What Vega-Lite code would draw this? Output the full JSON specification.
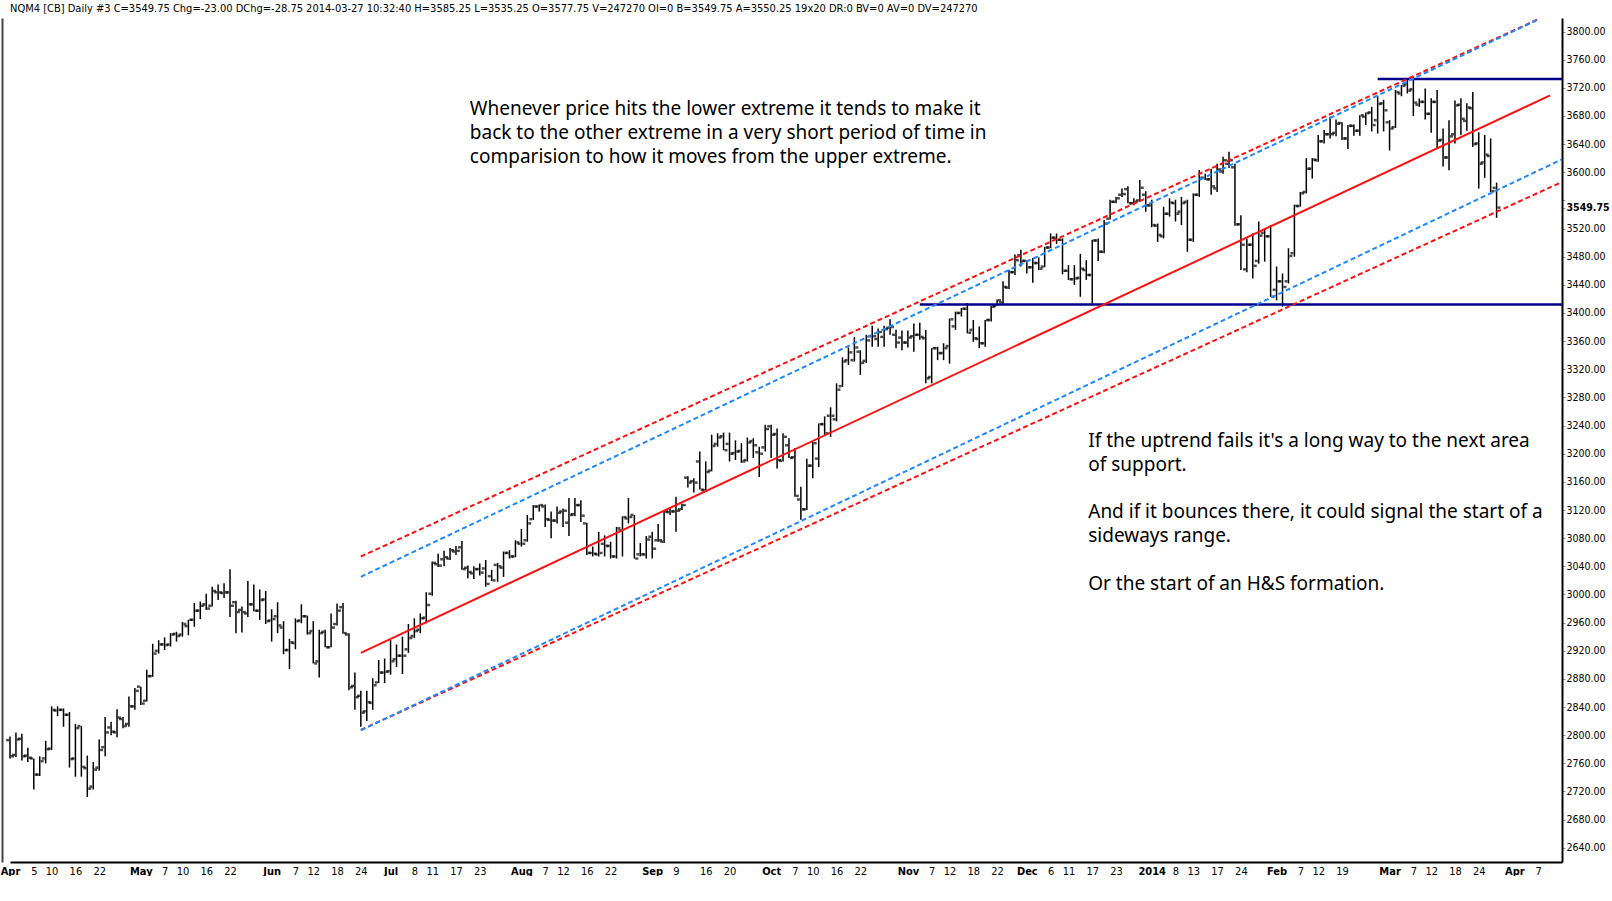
{
  "$schema": "https://vega.github.io/schema/vega-lite/v6.json",
  "width": 1560,
  "height": 844,
  "padding": {"left": 0, "top": 3, "right": 0, "bottom": 0},
  "background": "white",
  "title": {
    "text": "NQM4 [CB]  Daily  #3  C=3549.75  Chg=-23.00  DChg=-28.75  2014-03-27 10:32:40 H=3585.25 L=3535.25 O=3577.75 V=247270 OI=0 B=3549.75 A=3550.25 19x20 DR:0 BV=0 AV=0 DV=247270",
    "anchor": "start",
    "frame": "group",
    "dx": 8,
    "offset": 4,
    "font": "Liberation Sans Narrow, DejaVu Sans Condensed, sans-serif",
    "fontSize": 11,
    "fontWeight": "normal",
    "color": "black"
  },
  "config": {"view": {"stroke": null}},
  "datasets": {
    "bars": [
      {"d":"2013-04-01","o":2793,"h":2798,"l":2767,"c":2770},
      {"d":"2013-04-02","o":2772,"h":2804,"l":2769,"c":2794},
      {"d":"2013-04-03","o":2795,"h":2802,"l":2764,"c":2770},
      {"d":"2013-04-04","o":2771,"h":2782,"l":2762,"c":2768},
      {"d":"2013-04-05","o":2767,"h":2767,"l":2723,"c":2744},
      {"d":"2013-04-08","o":2744,"h":2770,"l":2742,"c":2763},
      {"d":"2013-04-09","o":2767,"h":2792,"l":2760,"c":2780},
      {"d":"2013-04-10","o":2781,"h":2841,"l":2779,"c":2836},
      {"d":"2013-04-11","o":2835,"h":2841,"l":2827,"c":2836},
      {"d":"2013-04-12","o":2836,"h":2838,"l":2812,"c":2829},
      {"d":"2013-04-15","o":2829,"h":2833,"l":2754,"c":2766},
      {"d":"2013-04-16","o":2767,"h":2816,"l":2741,"c":2810},
      {"d":"2013-04-17","o":2813,"h":2813,"l":2741,"c":2755},
      {"d":"2013-04-18","o":2753,"h":2771,"l":2712,"c":2724},
      {"d":"2013-04-19","o":2727,"h":2762,"l":2723,"c":2751},
      {"d":"2013-04-22","o":2754,"h":2794,"l":2750,"c":2779},
      {"d":"2013-04-23","o":2783,"h":2826,"l":2770,"c":2804},
      {"d":"2013-04-24","o":2811,"h":2819,"l":2800,"c":2805},
      {"d":"2013-04-25","o":2804,"h":2837,"l":2797,"c":2825},
      {"d":"2013-04-26","o":2823,"h":2826,"l":2810,"c":2813},
      {"d":"2013-04-29","o":2816,"h":2855,"l":2812,"c":2841},
      {"d":"2013-04-30","o":2841,"h":2867,"l":2836,"c":2863},
      {"d":"2013-05-01","o":2869,"h":2869,"l":2843,"c":2845},
      {"d":"2013-05-02","o":2849,"h":2893,"l":2848,"c":2884},
      {"d":"2013-05-03","o":2884,"h":2930,"l":2883,"c":2916},
      {"d":"2013-05-06","o":2920,"h":2935,"l":2916,"c":2929},
      {"d":"2013-05-07","o":2929,"h":2939,"l":2921,"c":2928},
      {"d":"2013-05-08","o":2929,"h":2945,"l":2926,"c":2943},
      {"d":"2013-05-09","o":2944,"h":2947,"l":2933,"c":2941},
      {"d":"2013-05-10","o":2943,"h":2961,"l":2940,"c":2958},
      {"d":"2013-05-13","o":2955,"h":2964,"l":2942,"c":2964},
      {"d":"2013-05-14","o":2964,"h":2988,"l":2954,"c":2977},
      {"d":"2013-05-15","o":2977,"h":2990,"l":2965,"c":2984},
      {"d":"2013-05-16","o":2986,"h":3001,"l":2978,"c":2980},
      {"d":"2013-05-17","o":2984,"h":3011,"l":2983,"c":3005},
      {"d":"2013-05-20","o":3003,"h":3014,"l":2992,"c":3003},
      {"d":"2013-05-21","o":3002,"h":3016,"l":2995,"c":3003},
      {"d":"2013-05-22","o":3003,"h":3036,"l":2968,"c":2984},
      {"d":"2013-05-23","o":2989,"h":2991,"l":2945,"c":2975},
      {"d":"2013-05-24","o":2978,"h":2983,"l":2946,"c":2975},
      {"d":"2013-05-28","o":2973,"h":3019,"l":2968,"c":2986},
      {"d":"2013-05-29","o":2986,"h":3014,"l":2976,"c":2977},
      {"d":"2013-05-30","o":2977,"h":3007,"l":2964,"c":2992},
      {"d":"2013-05-31","o":2993,"h":3005,"l":2958,"c":2962},
      {"d":"2013-06-03","o":2963,"h":2979,"l":2933,"c":2965},
      {"d":"2013-06-04","o":2969,"h":2989,"l":2945,"c":2956},
      {"d":"2013-06-05","o":2953,"h":2962,"l":2915,"c":2921},
      {"d":"2013-06-06","o":2921,"h":2937,"l":2894,"c":2932},
      {"d":"2013-06-07","o":2931,"h":2966,"l":2922,"c":2962},
      {"d":"2013-06-10","o":2963,"h":2986,"l":2959,"c":2969},
      {"d":"2013-06-11","o":2969,"h":2970,"l":2943,"c":2945},
      {"d":"2013-06-12","o":2948,"h":2962,"l":2902,"c":2902},
      {"d":"2013-06-13","o":2905,"h":2950,"l":2882,"c":2945},
      {"d":"2013-06-14","o":2947,"h":2950,"l":2925,"c":2925},
      {"d":"2013-06-17","o":2925,"h":2973,"l":2925,"c":2953},
      {"d":"2013-06-18","o":2958,"h":2987,"l":2956,"c":2977},
      {"d":"2013-06-19","o":2982,"h":2988,"l":2944,"c":2945},
      {"d":"2013-06-20","o":2943,"h":2945,"l":2864,"c":2868},
      {"d":"2013-06-21","o":2870,"h":2889,"l":2836,"c":2854},
      {"d":"2013-06-24","o":2856,"h":2863,"l":2812,"c":2832},
      {"d":"2013-06-25","o":2834,"h":2863,"l":2820,"c":2847},
      {"d":"2013-06-26","o":2846,"h":2881,"l":2836,"c":2871},
      {"d":"2013-06-27","o":2875,"h":2907,"l":2874,"c":2889},
      {"d":"2013-06-28","o":2889,"h":2909,"l":2874,"c":2890},
      {"d":"2013-07-01","o":2891,"h":2935,"l":2886,"c":2905},
      {"d":"2013-07-02","o":2908,"h":2929,"l":2897,"c":2913},
      {"d":"2013-07-03","o":2913,"h":2940,"l":2887,"c":2913},
      {"d":"2013-07-05","o":2922,"h":2958,"l":2917,"c":2938},
      {"d":"2013-07-08","o":2941,"h":2966,"l":2938,"c":2948},
      {"d":"2013-07-09","o":2950,"h":2973,"l":2945,"c":2966},
      {"d":"2013-07-10","o":2967,"h":3003,"l":2959,"c":2985},
      {"d":"2013-07-11","o":3001,"h":3047,"l":2998,"c":3045},
      {"d":"2013-07-12","o":3043,"h":3058,"l":3039,"c":3041},
      {"d":"2013-07-15","o":3050,"h":3062,"l":3040,"c":3053},
      {"d":"2013-07-16","o":3051,"h":3066,"l":3049,"c":3063},
      {"d":"2013-07-17","o":3061,"h":3069,"l":3056,"c":3062},
      {"d":"2013-07-18","o":3067,"h":3076,"l":3035,"c":3036},
      {"d":"2013-07-19","o":3038,"h":3041,"l":3023,"c":3032},
      {"d":"2013-07-22","o":3030,"h":3040,"l":3022,"c":3036},
      {"d":"2013-07-23","o":3036,"h":3044,"l":3027,"c":3031},
      {"d":"2013-07-24","o":3037,"h":3049,"l":3011,"c":3015},
      {"d":"2013-07-25","o":3026,"h":3035,"l":3019,"c":3020},
      {"d":"2013-07-26","o":3042,"h":3045,"l":3018,"c":3040},
      {"d":"2013-07-29","o":3038,"h":3061,"l":3025,"c":3059},
      {"d":"2013-07-30","o":3059,"h":3063,"l":3051,"c":3054},
      {"d":"2013-07-31","o":3054,"h":3077,"l":3053,"c":3074},
      {"d":"2013-08-01","o":3072,"h":3093,"l":3068,"c":3072},
      {"d":"2013-08-02","o":3077,"h":3113,"l":3075,"c":3101},
      {"d":"2013-08-05","o":3107,"h":3127,"l":3106,"c":3125},
      {"d":"2013-08-06","o":3125,"h":3128,"l":3118,"c":3127},
      {"d":"2013-08-07","o":3125,"h":3128,"l":3096,"c":3107},
      {"d":"2013-08-08","o":3106,"h":3118,"l":3080,"c":3105},
      {"d":"2013-08-09","o":3105,"h":3125,"l":3101,"c":3116},
      {"d":"2013-08-12","o":3118,"h":3122,"l":3096,"c":3119},
      {"d":"2013-08-13","o":3102,"h":3137,"l":3083,"c":3113},
      {"d":"2013-08-14","o":3114,"h":3137,"l":3111,"c":3127},
      {"d":"2013-08-15","o":3127,"h":3134,"l":3103,"c":3112},
      {"d":"2013-08-16","o":3101,"h":3102,"l":3056,"c":3059},
      {"d":"2013-08-19","o":3059,"h":3068,"l":3054,"c":3058},
      {"d":"2013-08-20","o":3057,"h":3089,"l":3054,"c":3059},
      {"d":"2013-08-21","o":3072,"h":3084,"l":3054,"c":3069},
      {"d":"2013-08-22","o":3069,"h":3075,"l":3051,"c":3054},
      {"d":"2013-08-23","o":3054,"h":3096,"l":3051,"c":3094},
      {"d":"2013-08-26","o":3091,"h":3111,"l":3054,"c":3110},
      {"d":"2013-08-27","o":3108,"h":3137,"l":3101,"c":3110},
      {"d":"2013-08-28","o":3113,"h":3113,"l":3051,"c":3051},
      {"d":"2013-08-29","o":3057,"h":3073,"l":3054,"c":3057},
      {"d":"2013-08-30","o":3057,"h":3083,"l":3051,"c":3078},
      {"d":"2013-09-03","o":3082,"h":3089,"l":3051,"c":3065},
      {"d":"2013-09-04","o":3077,"h":3100,"l":3075,"c":3077},
      {"d":"2013-09-05","o":3075,"h":3119,"l":3073,"c":3118},
      {"d":"2013-09-06","o":3117,"h":3122,"l":3113,"c":3118},
      {"d":"2013-09-09","o":3118,"h":3139,"l":3089,"c":3119},
      {"d":"2013-09-10","o":3121,"h":3129,"l":3120,"c":3127},
      {"d":"2013-09-11","o":3166,"h":3168,"l":3152,"c":3159},
      {"d":"2013-09-12","o":3161,"h":3165,"l":3145,"c":3159},
      {"d":"2013-09-13","o":3189,"h":3203,"l":3149,"c":3149},
      {"d":"2013-09-16","o":3148,"h":3189,"l":3148,"c":3174},
      {"d":"2013-09-17","o":3176,"h":3227,"l":3175,"c":3211},
      {"d":"2013-09-18","o":3214,"h":3229,"l":3210,"c":3223},
      {"d":"2013-09-19","o":3225,"h":3230,"l":3205,"c":3205},
      {"d":"2013-09-20","o":3214,"h":3230,"l":3189,"c":3200},
      {"d":"2013-09-23","o":3201,"h":3219,"l":3191,"c":3203},
      {"d":"2013-09-24","o":3204,"h":3215,"l":3187,"c":3189},
      {"d":"2013-09-25","o":3191,"h":3223,"l":3189,"c":3216},
      {"d":"2013-09-26","o":3218,"h":3222,"l":3194,"c":3212},
      {"d":"2013-09-27","o":3202,"h":3210,"l":3167,"c":3200},
      {"d":"2013-09-30","o":3209,"h":3241,"l":3203,"c":3235},
      {"d":"2013-10-01","o":3239,"h":3241,"l":3194,"c":3227},
      {"d":"2013-10-02","o":3228,"h":3236,"l":3179,"c":3191},
      {"d":"2013-10-03","o":3190,"h":3229,"l":3189,"c":3224},
      {"d":"2013-10-04","o":3212,"h":3222,"l":3194,"c":3194},
      {"d":"2013-10-07","o":3195,"h":3208,"l":3139,"c":3140},
      {"d":"2013-10-08","o":3135,"h":3153,"l":3106,"c":3121},
      {"d":"2013-10-09","o":3121,"h":3193,"l":3120,"c":3183},
      {"d":"2013-10-10","o":3183,"h":3217,"l":3165,"c":3215},
      {"d":"2013-10-11","o":3193,"h":3243,"l":3181,"c":3242},
      {"d":"2013-10-14","o":3242,"h":3253,"l":3226,"c":3229},
      {"d":"2013-10-15","o":3254,"h":3266,"l":3224,"c":3254},
      {"d":"2013-10-16","o":3249,"h":3300,"l":3246,"c":3291},
      {"d":"2013-10-17","o":3296,"h":3337,"l":3295,"c":3331},
      {"d":"2013-10-18","o":3333,"h":3351,"l":3326,"c":3344},
      {"d":"2013-10-21","o":3333,"h":3366,"l":3331,"c":3351},
      {"d":"2013-10-22","o":3345,"h":3347,"l":3312,"c":3329},
      {"d":"2013-10-23","o":3332,"h":3369,"l":3329,"c":3361},
      {"d":"2013-10-24","o":3367,"h":3382,"l":3352,"c":3367},
      {"d":"2013-10-25","o":3363,"h":3378,"l":3352,"c":3373},
      {"d":"2013-10-28","o":3366,"h":3382,"l":3352,"c":3377},
      {"d":"2013-10-29","o":3379,"h":3391,"l":3369,"c":3380},
      {"d":"2013-10-30","o":3369,"h":3376,"l":3350,"c":3358},
      {"d":"2013-10-31","o":3365,"h":3375,"l":3347,"c":3358},
      {"d":"2013-11-01","o":3358,"h":3375,"l":3351,"c":3365},
      {"d":"2013-11-04","o":3367,"h":3385,"l":3345,"c":3369},
      {"d":"2013-11-05","o":3369,"h":3386,"l":3362,"c":3366},
      {"d":"2013-11-06","o":3364,"h":3376,"l":3300,"c":3307},
      {"d":"2013-11-07","o":3309,"h":3350,"l":3300,"c":3350},
      {"d":"2013-11-08","o":3350,"h":3352,"l":3333,"c":3343},
      {"d":"2013-11-11","o":3343,"h":3357,"l":3333,"c":3350},
      {"d":"2013-11-12","o":3353,"h":3392,"l":3328,"c":3391},
      {"d":"2013-11-13","o":3381,"h":3402,"l":3376,"c":3400},
      {"d":"2013-11-14","o":3400,"h":3407,"l":3395,"c":3406},
      {"d":"2013-11-15","o":3406,"h":3414,"l":3371,"c":3372},
      {"d":"2013-11-18","o":3376,"h":3390,"l":3359,"c":3364},
      {"d":"2013-11-19","o":3363,"h":3381,"l":3350,"c":3357},
      {"d":"2013-11-20","o":3357,"h":3390,"l":3352,"c":3390},
      {"d":"2013-11-21","o":3390,"h":3410,"l":3388,"c":3409},
      {"d":"2013-11-22","o":3410,"h":3419,"l":3410,"c":3418},
      {"d":"2013-11-25","o":3415,"h":3445,"l":3412,"c":3437},
      {"d":"2013-11-26","o":3436,"h":3461,"l":3434,"c":3458},
      {"d":"2013-11-27","o":3458,"h":3483,"l":3454,"c":3475},
      {"d":"2013-11-29","o":3482,"h":3490,"l":3466,"c":3474},
      {"d":"2013-12-02","o":3474,"h":3475,"l":3456,"c":3465},
      {"d":"2013-12-03","o":3465,"h":3478,"l":3443,"c":3471},
      {"d":"2013-12-04","o":3471,"h":3479,"l":3461,"c":3463},
      {"d":"2013-12-05","o":3466,"h":3494,"l":3465,"c":3493},
      {"d":"2013-12-06","o":3493,"h":3513,"l":3492,"c":3507},
      {"d":"2013-12-09","o":3507,"h":3513,"l":3498,"c":3504},
      {"d":"2013-12-10","o":3504,"h":3506,"l":3455,"c":3460},
      {"d":"2013-12-11","o":3460,"h":3468,"l":3447,"c":3448},
      {"d":"2013-12-12","o":3448,"h":3468,"l":3440,"c":3449},
      {"d":"2013-12-13","o":3450,"h":3484,"l":3423,"c":3463},
      {"d":"2013-12-16","o":3461,"h":3475,"l":3447,"c":3454},
      {"d":"2013-12-17","o":3454,"h":3504,"l":3411,"c":3503},
      {"d":"2013-12-18","o":3503,"h":3506,"l":3474,"c":3487},
      {"d":"2013-12-19","o":3487,"h":3532,"l":3485,"c":3527},
      {"d":"2013-12-20","o":3534,"h":3561,"l":3533,"c":3558},
      {"d":"2013-12-23","o":3558,"h":3565,"l":3556,"c":3563},
      {"d":"2013-12-24","o":3568,"h":3577,"l":3565,"c":3569},
      {"d":"2013-12-26","o":3576,"h":3580,"l":3556,"c":3556},
      {"d":"2013-12-27","o":3556,"h":3563,"l":3553,"c":3558},
      {"d":"2013-12-30","o":3560,"h":3589,"l":3558,"c":3578},
      {"d":"2013-12-31","o":3568,"h":3573,"l":3544,"c":3553},
      {"d":"2014-01-02","o":3553,"h":3561,"l":3522,"c":3525},
      {"d":"2014-01-03","o":3524,"h":3527,"l":3501,"c":3511},
      {"d":"2014-01-06","o":3509,"h":3551,"l":3506,"c":3541},
      {"d":"2014-01-07","o":3541,"h":3563,"l":3537,"c":3557},
      {"d":"2014-01-08","o":3556,"h":3561,"l":3530,"c":3541},
      {"d":"2014-01-09","o":3544,"h":3565,"l":3525,"c":3556},
      {"d":"2014-01-10","o":3558,"h":3561,"l":3487,"c":3504},
      {"d":"2014-01-13","o":3504,"h":3570,"l":3501,"c":3568},
      {"d":"2014-01-14","o":3568,"h":3603,"l":3565,"c":3592},
      {"d":"2014-01-15","o":3592,"h":3598,"l":3589,"c":3590},
      {"d":"2014-01-16","o":3590,"h":3605,"l":3568,"c":3580},
      {"d":"2014-01-17","o":3577,"h":3612,"l":3572,"c":3604},
      {"d":"2014-01-21","o":3601,"h":3622,"l":3598,"c":3617},
      {"d":"2014-01-22","o":3612,"h":3629,"l":3606,"c":3617},
      {"d":"2014-01-23","o":3607,"h":3612,"l":3524,"c":3526},
      {"d":"2014-01-24","o":3526,"h":3539,"l":3461,"c":3497},
      {"d":"2014-01-27","o":3462,"h":3506,"l":3458,"c":3497},
      {"d":"2014-01-28","o":3497,"h":3513,"l":3449,"c":3467},
      {"d":"2014-01-29","o":3474,"h":3530,"l":3470,"c":3510},
      {"d":"2014-01-30","o":3514,"h":3520,"l":3473,"c":3509},
      {"d":"2014-01-31","o":3509,"h":3525,"l":3423,"c":3423},
      {"d":"2014-02-03","o":3433,"h":3466,"l":3418,"c":3445},
      {"d":"2014-02-04","o":3445,"h":3456,"l":3409,"c":3437},
      {"d":"2014-02-05","o":3445,"h":3492,"l":3442,"c":3481},
      {"d":"2014-02-06","o":3485,"h":3554,"l":3480,"c":3552},
      {"d":"2014-02-07","o":3552,"h":3572,"l":3551,"c":3570},
      {"d":"2014-02-10","o":3572,"h":3620,"l":3570,"c":3605},
      {"d":"2014-02-11","o":3605,"h":3620,"l":3591,"c":3618},
      {"d":"2014-02-12","o":3617,"h":3653,"l":3615,"c":3644},
      {"d":"2014-02-13","o":3644,"h":3660,"l":3641,"c":3654},
      {"d":"2014-02-14","o":3654,"h":3679,"l":3648,"c":3654},
      {"d":"2014-02-18","o":3656,"h":3675,"l":3651,"c":3669},
      {"d":"2014-02-19","o":3670,"h":3671,"l":3646,"c":3648},
      {"d":"2014-02-20","o":3648,"h":3667,"l":3633,"c":3666},
      {"d":"2014-02-21","o":3666,"h":3668,"l":3652,"c":3659},
      {"d":"2014-02-24","o":3659,"h":3681,"l":3652,"c":3681},
      {"d":"2014-02-25","o":3679,"h":3685,"l":3667,"c":3684},
      {"d":"2014-02-26","o":3685,"h":3693,"l":3658,"c":3667},
      {"d":"2014-02-27","o":3674,"h":3708,"l":3655,"c":3697},
      {"d":"2014-02-28","o":3698,"h":3703,"l":3658,"c":3688},
      {"d":"2014-03-03","o":3671,"h":3674,"l":3631,"c":3662},
      {"d":"2014-03-04","o":3664,"h":3717,"l":3663,"c":3714},
      {"d":"2014-03-05","o":3712,"h":3724,"l":3708,"c":3723},
      {"d":"2014-03-06","o":3725,"h":3731,"l":3712,"c":3716},
      {"d":"2014-03-07","o":3718,"h":3736,"l":3680,"c":3699},
      {"d":"2014-03-10","o":3696,"h":3705,"l":3693,"c":3700},
      {"d":"2014-03-11","o":3700,"h":3719,"l":3675,"c":3683},
      {"d":"2014-03-12","o":3683,"h":3705,"l":3656,"c":3700},
      {"d":"2014-03-13","o":3700,"h":3717,"l":3634,"c":3645},
      {"d":"2014-03-14","o":3646,"h":3662,"l":3608,"c":3621},
      {"d":"2014-03-17","o":3621,"h":3674,"l":3603,"c":3651},
      {"d":"2014-03-18","o":3654,"h":3702,"l":3641,"c":3695},
      {"d":"2014-03-19","o":3696,"h":3705,"l":3653,"c":3676},
      {"d":"2014-03-20","o":3673,"h":3698,"l":3659,"c":3692},
      {"d":"2014-03-21","o":3691,"h":3714,"l":3636,"c":3640},
      {"d":"2014-03-24","o":3641,"h":3657,"l":3577,"c":3612},
      {"d":"2014-03-25","o":3614,"h":3653,"l":3592,"c":3625},
      {"d":"2014-03-26","o":3623,"h":3648,"l":3572,"c":3573},
      {"d":"2014-03-27","o":3577.75,"h":3585.25,"l":3535.25,"c":3549.75}
    ],
    "regression": [
      {"d": "2013-06-24", "p": 2917.1, "d2": "2014-04-09", "p2": 3709.3}
    ],
    "channels": [
      {"kind": "red", "d": "2013-06-24", "p": 3053.9, "d2": "2014-04-07", "p2": 3817.5},
      {"kind": "red", "d": "2013-06-24", "p": 2807.5, "d2": "2014-04-11", "p2": 3586.2},
      {"kind": "blue", "d": "2013-06-24", "p": 3025.1, "d2": "2014-04-07", "p2": 3817.1},
      {"kind": "blue", "d": "2013-06-24", "p": 2807, "d2": "2014-04-11", "p2": 3618.4}
    ],
    "levels": [
      {"d": "2013-11-05", "d2": "2014-04-11", "p": 3412},
      {"d": "2014-02-27", "d2": "2014-04-11", "p": 3732.5}
    ],
    "notes": [
      {"d": "2013-07-22", "p": 3689.9, "t": "Whenever price hits the lower extreme it tends to make it\nback to the other extreme in a very short period of time in\ncomparision to how it moves from the upper extreme."},
      {"d": "2013-12-17", "p": 3217.7, "t": "If the uptrend fails it's a long way to the next area\nof support."},
      {"d": "2013-12-17", "p": 3116.8, "t": "And if it bounces there, it could signal the start of a\nsideways range."},
      {"d": "2013-12-17", "p": 3014.5, "t": "Or the start of an H&S formation."}
    ]
  },
  "encoding": {
    "x": {
      "field": "d",
      "type": "ordinal",
      "scale": {
        "type": "point",
        "padding": 0,
        "range": [8, 1560],
        "domain": ["2013-04-01","2013-04-02","2013-04-03","2013-04-04","2013-04-05","2013-04-08","2013-04-09","2013-04-10","2013-04-11","2013-04-12","2013-04-15","2013-04-16","2013-04-17","2013-04-18","2013-04-19","2013-04-22","2013-04-23","2013-04-24","2013-04-25","2013-04-26","2013-04-29","2013-04-30",
          "2013-05-01","2013-05-02","2013-05-03","2013-05-06","2013-05-07","2013-05-08","2013-05-09","2013-05-10","2013-05-13","2013-05-14","2013-05-15","2013-05-16","2013-05-17","2013-05-20","2013-05-21","2013-05-22","2013-05-23","2013-05-24","2013-05-28","2013-05-29","2013-05-30","2013-05-31",
          "2013-06-03","2013-06-04","2013-06-05","2013-06-06","2013-06-07","2013-06-10","2013-06-11","2013-06-12","2013-06-13","2013-06-14","2013-06-17","2013-06-18","2013-06-19","2013-06-20","2013-06-21","2013-06-24","2013-06-25","2013-06-26","2013-06-27","2013-06-28",
          "2013-07-01","2013-07-02","2013-07-03","2013-07-05","2013-07-08","2013-07-09","2013-07-10","2013-07-11","2013-07-12","2013-07-15","2013-07-16","2013-07-17","2013-07-18","2013-07-19","2013-07-22","2013-07-23","2013-07-24","2013-07-25","2013-07-26","2013-07-29","2013-07-30","2013-07-31",
          "2013-08-01","2013-08-02","2013-08-05","2013-08-06","2013-08-07","2013-08-08","2013-08-09","2013-08-12","2013-08-13","2013-08-14","2013-08-15","2013-08-16","2013-08-19","2013-08-20","2013-08-21","2013-08-22","2013-08-23","2013-08-26","2013-08-27","2013-08-28","2013-08-29","2013-08-30",
          "2013-09-03","2013-09-04","2013-09-05","2013-09-06","2013-09-09","2013-09-10","2013-09-11","2013-09-12","2013-09-13","2013-09-16","2013-09-17","2013-09-18","2013-09-19","2013-09-20","2013-09-23","2013-09-24","2013-09-25","2013-09-26","2013-09-27","2013-09-30",
          "2013-10-01","2013-10-02","2013-10-03","2013-10-04","2013-10-07","2013-10-08","2013-10-09","2013-10-10","2013-10-11","2013-10-14","2013-10-15","2013-10-16","2013-10-17","2013-10-18","2013-10-21","2013-10-22","2013-10-23","2013-10-24","2013-10-25","2013-10-28","2013-10-29","2013-10-30","2013-10-31",
          "2013-11-01","2013-11-04","2013-11-05","2013-11-06","2013-11-07","2013-11-08","2013-11-11","2013-11-12","2013-11-13","2013-11-14","2013-11-15","2013-11-18","2013-11-19","2013-11-20","2013-11-21","2013-11-22","2013-11-25","2013-11-26","2013-11-27","2013-11-29",
          "2013-12-02","2013-12-03","2013-12-04","2013-12-05","2013-12-06","2013-12-09","2013-12-10","2013-12-11","2013-12-12","2013-12-13","2013-12-16","2013-12-17","2013-12-18","2013-12-19","2013-12-20","2013-12-23","2013-12-24","2013-12-26","2013-12-27","2013-12-30","2013-12-31",
          "2014-01-02","2014-01-03","2014-01-06","2014-01-07","2014-01-08","2014-01-09","2014-01-10","2014-01-13","2014-01-14","2014-01-15","2014-01-16","2014-01-17","2014-01-21","2014-01-22","2014-01-23","2014-01-24","2014-01-27","2014-01-28","2014-01-29","2014-01-30","2014-01-31",
          "2014-02-03","2014-02-04","2014-02-05","2014-02-06","2014-02-07","2014-02-10","2014-02-11","2014-02-12","2014-02-13","2014-02-14","2014-02-18","2014-02-19","2014-02-20","2014-02-21","2014-02-24","2014-02-25","2014-02-26","2014-02-27","2014-02-28",
          "2014-03-03","2014-03-04","2014-03-05","2014-03-06","2014-03-07","2014-03-10","2014-03-11","2014-03-12","2014-03-13","2014-03-14","2014-03-17","2014-03-18","2014-03-19","2014-03-20","2014-03-21","2014-03-24","2014-03-25","2014-03-26","2014-03-27",
          "2014-03-28","2014-03-31","2014-04-01","2014-04-02","2014-04-03","2014-04-04","2014-04-07","2014-04-08","2014-04-09","2014-04-10","2014-04-11"]
      },
      "axis": {
        "title": null,
        "grid": false,
        "ticks": false,
        "domainColor": "black",
        "domainWidth": 2,
        "labelAngle": 0,
        "labelOverlap": false,
        "labelBound": false,
        "labelFlush": false,
        "labelPadding": 3,
        "labelFont": "Liberation Sans Narrow, DejaVu Sans Condensed, sans-serif",
        "labelFontSize": 11,
        "labelColor": "black",
        "labelFontWeight": {"condition": {"test": "substring(datum.value, 8, 10) == '01' || datum.value == '2013-06-03' || datum.value == '2013-09-03' || datum.value == '2013-12-02' || datum.value == '2014-01-02' || datum.value == '2014-02-03' || datum.value == '2014-03-03'", "value": "bold"}, "value": "normal"},
        "values": ["2013-04-01","2013-04-05","2013-04-10","2013-04-16","2013-04-22","2013-05-01","2013-05-07","2013-05-10","2013-05-16","2013-05-22","2013-06-03","2013-06-07","2013-06-12","2013-06-18","2013-06-24","2013-07-01","2013-07-08","2013-07-11","2013-07-17","2013-07-23","2013-08-01","2013-08-07","2013-08-12","2013-08-16","2013-08-22","2013-09-03","2013-09-09","2013-09-16","2013-09-20","2013-10-01","2013-10-07","2013-10-10","2013-10-16","2013-10-22","2013-11-01","2013-11-07","2013-11-12","2013-11-18","2013-11-22","2013-12-02","2013-12-06","2013-12-11","2013-12-17","2013-12-23","2014-01-02","2014-01-08","2014-01-13","2014-01-17","2014-01-24","2014-02-03","2014-02-07","2014-02-12","2014-02-19","2014-03-03","2014-03-07","2014-03-12","2014-03-18","2014-03-24","2014-04-01","2014-04-07"],
        "labelExpr": "{'2013-04-01':'Apr','2013-05-01':'May','2013-06-03':'Jun','2013-07-01':'Jul','2013-08-01':'Aug','2013-09-03':'Sep','2013-10-01':'Oct','2013-11-01':'Nov','2013-12-02':'Dec','2014-01-02':'2014','2014-02-03':'Feb','2014-03-03':'Mar','2014-04-01':'Apr'}[datum.value] || ('' + (+substring(datum.value, 8, 10)))"
      }
    }
  },
  "resolve": {"axis": {"y": "independent"}},
  "layer": [
    {
      "data": {"name": "bars"},
      "mark": {"type": "rule", "color": "black", "strokeWidth": 1.5},
      "encoding": {
        "y": {
          "field": "l", "type": "quantitative",
          "scale": {"domain": [2619.8, 3819.2], "nice": false, "zero": false},
          "axis": {
            "orient": "right",
            "title": null,
            "grid": false,
            "values": [2640,2680,2720,2760,2800,2840,2880,2920,2960,3000,3040,3080,3120,3160,3200,3240,3280,3320,3360,3400,3440,3480,3520,3549.75,3560,3600,3640,3680,3720,3760,3800],
            "labelExpr": "datum.value == 3560 ? '' : format(datum.value, '.2f')",
            "labelFontWeight": {"condition": {"test": "datum.value == 3549.75", "value": "bold"}, "value": "normal"},
            "labelOverlap": false,
            "labelBound": false,
            "labelFlush": false,
            "labelFont": "Liberation Sans Narrow, DejaVu Sans Condensed, sans-serif",
            "labelFontSize": 10.5,
            "labelColor": "black",
            "labelPadding": 1,
            "tickColor": "#999999",
            "tickSize": 3,
            "domainColor": "black",
            "domainWidth": 2
          }
        },
        "y2": {"field": "h"}
      }
    },
    {
      "data": {"name": "bars"},
      "mark": {"type": "tick", "color": "black", "size": 3, "thickness": 2.5, "xOffset": -2.4},
      "encoding": {
        "y": {"field": "o", "type": "quantitative", "scale": {"domain": [2619.8, 3819.2], "nice": false, "zero": false}, "axis": null}
      }
    },
    {
      "data": {"name": "bars"},
      "mark": {"type": "tick", "color": "black", "size": 3, "thickness": 2.5, "xOffset": 2.4},
      "encoding": {
        "y": {"field": "c", "type": "quantitative", "scale": {"domain": [2619.8, 3819.2], "nice": false, "zero": false}, "axis": null}
      }
    },
    {
      "data": {"name": "levels"},
      "mark": {"type": "rule", "color": "#00008B", "strokeWidth": 2.5},
      "encoding": {
        "x2": {"field": "d2"},
        "y": {"field": "p", "type": "quantitative", "scale": {"domain": [2619.8, 3819.2], "nice": false, "zero": false},
          "axis": {"orient": "left", "labels": false, "ticks": false, "title": null, "grid": false, "domainColor": "#444444", "domainWidth": 2}}
      }
    },
    {
      "data": {"name": "channels"},
      "mark": {"type": "rule", "strokeWidth": 2, "strokeDash": [5, 3]},
      "encoding": {
        "x2": {"field": "d2"},
        "y": {"field": "p", "type": "quantitative", "scale": {"domain": [2619.8, 3819.2], "nice": false, "zero": false}, "axis": null},
        "y2": {"field": "p2"},
        "color": {"field": "kind", "type": "nominal", "scale": {"domain": ["red", "blue"], "range": ["#FF1010", "#1E88FF"]}, "legend": null}
      }
    },
    {
      "data": {"name": "regression"},
      "mark": {"type": "rule", "color": "#FF1010", "strokeWidth": 2},
      "encoding": {
        "x2": {"field": "d2"},
        "y": {"field": "p", "type": "quantitative", "scale": {"domain": [2619.8, 3819.2], "nice": false, "zero": false}, "axis": null},
        "y2": {"field": "p2"}
      }
    },
    {
      "data": {"name": "notes"},
      "mark": {"type": "text", "align": "left", "baseline": "middle", "lineBreak": "\n", "lineHeight": 24, "font": "Noto Sans", "fontSize": 19, "color": "black", "dx": -4},
      "encoding": {
        "y": {"field": "p", "type": "quantitative", "scale": {"domain": [2619.8, 3819.2], "nice": false, "zero": false}, "axis": null},
        "text": {"field": "t", "type": "nominal"}
      }
    }
  ]
}
